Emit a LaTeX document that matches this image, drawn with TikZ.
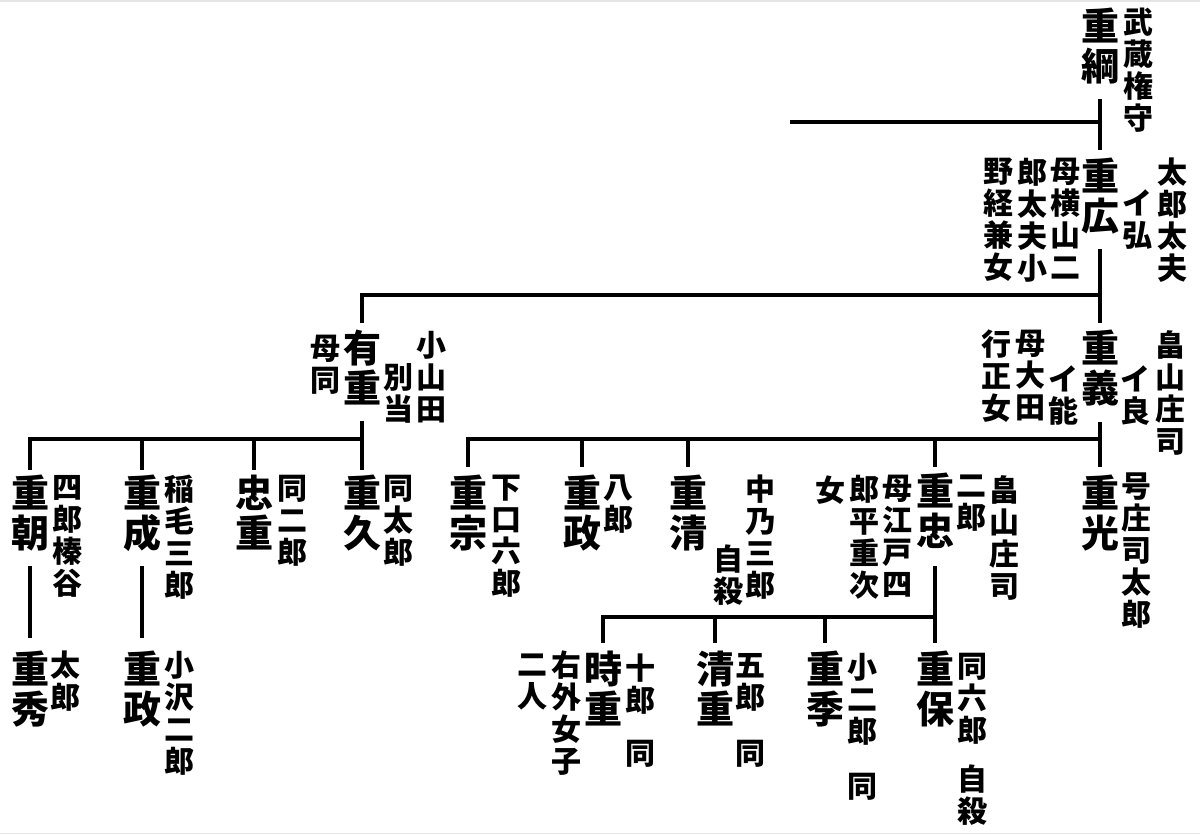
\documentclass[tikz,border=0pt]{standalone}
\usepackage{fontspec}
\newfontfamily\cjk{Noto Sans CJK JP}
\usetikzlibrary{calc}
\newcommand\emtop{\rule{0pt}{0.88em}}
\tikzset{
 big/.style={font=\cjk\bfseries\fontsize{38}{40}\selectfont, align=center, inner sep=0pt, anchor=north, execute at begin node=\emtop},
 note/.style={font=\cjk\bfseries\fontsize{30}{32}\selectfont, align=center, inner sep=0pt, anchor=north, execute at begin node=\emtop},
 link/.style={line width=3.4pt},
 frame/.style={gray!20, line width=1.5pt}
}
\begin{document}
\begin{tikzpicture}[x=1pt,y=-1pt]
\useasboundingbox (0,0) rectangle (1200,835);
\fill[white] (0,0) rectangle (1200,835);
\draw[frame] (0,1) -- (1200,1) (0,833.5) -- (1200,833.5);
% generation 1-2
\node[big] (tsuna) at (1100,8) {重\\綱};
\node[note] (ntsuna) at (1138,8) {武\\蔵\\権\\守};
\node[big] (hiro) at (1100,158) {重\\広};
\node[note] (nhiroa) at (1137,190) {イ\\弘};
\node[note] (nhirob) at (1172,158) {太\\郎\\太\\夫};
\node[note] (nhiroc) at (1065,158) {母\\横\\山\\二};
\node[note] (nhirod) at (1032,158) {郎\\太\\夫\\小};
\node[note] (nhiroe) at (998,158) {野\\経\\兼\\女};
% generation 3
\node[big] (ari) at (362,330) {有\\重};
\node[note] (naria) at (325,335) {母\\同};
\node[note] (narib) at (398,363) {別\\当};
\node[note] (naric) at (431,331) {小\\山\\田};
\node[big] (yoshi) at (1100,330) {重\\義};
\node[note] (nyoshia) at (1135,366) {イ\\良};
\node[note] (nyoshib) at (1170,330) {畠\\山\\庄\\司};
\node[note] (nyoshic) at (1063,366) {イ\\能};
\node[note] (nyoshid) at (1030,330) {母\\大\\田};
\node[note] (nyoshie) at (996,330) {行\\正\\女};
% generation 4
\node[big] (tomo) at (30,475) {重\\朝};
\node[note] (ntomo) at (67,475) {四\\郎\\榛\\谷};
\node[big] (nari) at (142,475) {重\\成};
\node[note] (nnari) at (179,475) {稲\\毛\\三\\郎};
\node[big] (tadashige) at (254,475) {忠\\重};
\node[note] (ntadashige) at (292,475) {同\\二\\郎};
\node[big] (hisa) at (362,475) {重\\久};
\node[note] (nhisa) at (398,475) {同\\太\\郎};
\node[big] (mune) at (468,475) {重\\宗};
\node[note] (nmune) at (506,475) {下\\口\\六\\郎};
\node[big] (masa) at (582,475) {重\\政};
\node[note] (nmasa) at (618,475) {八\\郎};
\node[big] (kiyo) at (688,475) {重\\清};
\node[note] (nkiyoa) at (760,475) {中\\乃\\三\\郎};
\node[note] (nkiyob) at (728,545) {自\\殺};
\node[note] (nonna) at (830,475) {女};
\node[note] (ntadaa) at (864,475) {郎\\平\\重\\次};
\node[note] (ntadab) at (897,475) {母\\江\\戸\\四};
\node[big] (tada) at (935,473) {重\\忠};
\node[note] (ntadac) at (971,475) {二\\郎};
\node[note] (ntadad) at (1004,475) {畠\\山\\庄\\司};
\node[big] (mitsu) at (1100,475) {重\\光};
\node[note] (nmitsu) at (1136,473) {号\\庄\\司\\太\\郎};
% generation 5
\node[big] (hide) at (30,651) {重\\秀};
\node[note] (nhide) at (65,651) {太\\郎};
\node[big] (masa2) at (142,651) {重\\政};
\node[note] (nmasa2) at (179,651) {小\\沢\\二\\郎};
\node[big] (toki) at (603,651) {時\\重};
\node[note] (ntokia) at (640,654) {十\\郎};
\node[note] (ntokib) at (640,738) {同};
\node[note] (ntokic) at (566,651) {右\\外\\女\\子};
\node[note] (ntokid) at (532,654) {二\\人};
\node[big] (kiyo2) at (715,651) {清\\重};
\node[note] (nkiyo2a) at (750,653) {五\\郎};
\node[note] (nkiyo2b) at (750,738) {同};
\node[big] (sue) at (825,651) {重\\季};
\node[note] (nsuea) at (862,653) {小\\二\\郎};
\node[note] (nsueb) at (862,771) {同};
\node[big] (yasu) at (935,651) {重\\保};
\node[note] (nyasua) at (972,653) {同\\六\\郎};
\node[note] (nyasub) at (972,765) {自\\殺};
% connectors
\coordinate (bL) at (790,122);
\coordinate (bus1) at (0,295);
\coordinate (bus2) at (0,439);
\coordinate (bus3) at (0,617);
\draw[link] ([yshift=-14pt]tsuna.south) -- ([yshift=8pt]hiro.north);
\draw[link] (bL) -- (bL -| tsuna);
\draw[link] ([yshift=-14pt]hiro.south) -- (hiro |- bus1) -| ([yshift=7pt]ari.north);
\draw[link] (hiro |- bus1) -- ([yshift=7pt]yoshi.north);
\draw[link] ([yshift=-15pt]ari.south) -- ([yshift=5pt]hisa.north);
\draw[link] (hisa |- bus2) -| ([yshift=5pt]tomo.north);
\draw[link] (nari |- bus2) -- ([yshift=5pt]nari.north);
\draw[link] (tadashige |- bus2) -- ([yshift=5pt]tadashige.north);
\draw[link] ([yshift=-15pt]yoshi.south) -- ([yshift=8pt]mitsu.north);
\draw[link] (mitsu |- bus2) -| ([yshift=8pt]mune.north);
\draw[link] (masa |- bus2) -- ([yshift=8pt]masa.north);
\draw[link] (kiyo |- bus2) -- ([yshift=8pt]kiyo.north);
\draw[link] (tada |- bus2) -- ([yshift=6pt]tada.north);
\draw[link] ([yshift=-17pt]tada.south) -- ([yshift=8pt]yasu.north);
\draw[link] (yasu |- bus3) -| ([yshift=8pt]toki.north);
\draw[link] (kiyo2 |- bus3) -- ([yshift=8pt]kiyo2.north);
\draw[link] (sue |- bus3) -- ([yshift=8pt]sue.north);
\draw[link] ([yshift=-14pt]tomo.south) -- ([yshift=13pt]hide.north);
\draw[link] ([yshift=-14pt]nari.south) -- ([yshift=13pt]masa2.north);
\end{tikzpicture}
\end{document}
